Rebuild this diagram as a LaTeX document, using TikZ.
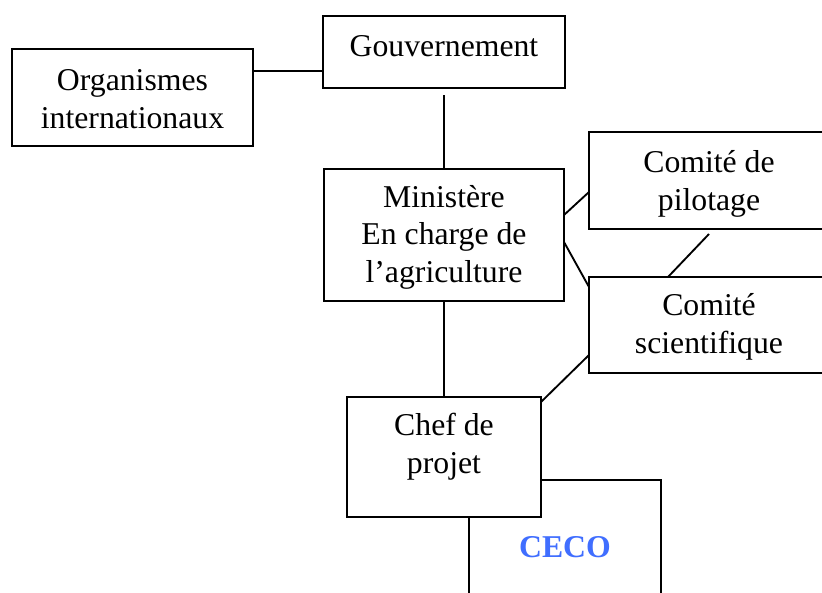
\documentclass[tikz,border=0pt]{standalone}
\usepackage{fontspec}
\setmainfont{Liberation Serif}
\newcommand{\pxu}{0.75pt}
\definecolor{cecoblue}{RGB}{64,110,255}
\begin{document}
\begin{tikzpicture}[x=0.75pt,y=-0.75pt,
  box/.style={draw=black, line width=1.4pt, fill=white, rectangle, inner sep=0pt, outer sep=0pt},
  txt/.style={font=\fontsize{23.8}{28.1}\selectfont, align=center, inner sep=0pt, anchor=base},
  link/.style={draw=black, line width=1.4pt}]
\useasboundingbox (0,0) rectangle (822,593);
\clip (0,0) rectangle (822,593);

% boxes
\node[box, minimum width=241*\pxu, minimum height=97*\pxu] (org) at (132.5,97.5) {};
\node[box, minimum width=242*\pxu, minimum height=72*\pxu] (gouv) at (444,52) {};
\node[box, minimum width=240*\pxu, minimum height=132*\pxu] (min) at (444,235) {};
\node[box, minimum width=240*\pxu, minimum height=97*\pxu] (pilot) at (709,180.5) {};
\node[box, minimum width=240*\pxu, minimum height=96*\pxu] (sci) at (709,325) {};
\node[box, minimum width=192*\pxu, minimum height=160*\pxu] (ceco) at (565,560) {};
\node[box, minimum width=194*\pxu, minimum height=120*\pxu] (chef) at (444,457) {};

% connectors
\draw[link] ([shift={(0,-26.5)}]org.east) -- ([shift={(0,19)}]gouv.west);
\draw[link] ([shift={(0,7)}]gouv.south) -- (min.north);
\draw[link] ([shift={(0,-20)}]min.east) -- ([shift={(0,11.5)}]pilot.west);
\draw[link] ([shift={(0,7)}]min.east) -- ([shift={(0,-38)}]sci.west);
\draw[link] ([shift={(0,5)}]pilot.south) -- ([shift={(-41,0)}]sci.north);
\draw[link] ([shift={(0,30)}]sci.west) -- ([shift={(0,5)}]chef.north east);
\draw[link] (min.south) -- (chef.north);

% texts (anchored on the baseline of the last line)
\node[txt] (gouv-t) at (444,56) {Gouvernement};
\node[txt] (org-t) at (132.5,128) {Organismes\\internationaux};
\node[txt] (min-t) at (444,282) {Ministère\\En charge de\\l’agriculture};
\node[txt] (pilot-t) at (709,210) {Comité de\\pilotage};
\node[txt] (sci-t) at (709,353) {Comité\\scientifique};
\node[txt] (chef-t) at (444,473) {Chef de\\projet};
\node[txt, text=cecoblue, font=\fontsize{23.8}{28.1}\selectfont\bfseries] (ceco-t) at (565,557) {CECO};
\end{tikzpicture}
\end{document}
